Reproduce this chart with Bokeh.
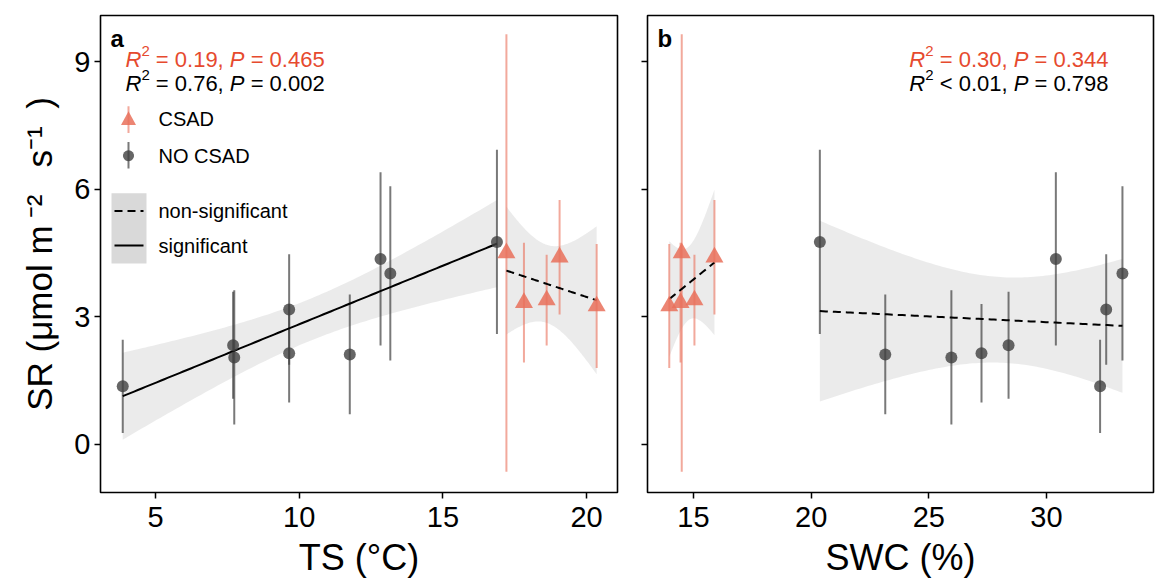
import numpy as np
from bokeh.plotting import figure
from bokeh.layouts import row
from bokeh.models import Range1d, FixedTicker, Label, BoxAnnotation, PolyAnnotation, Arrow
from bokeh.embed import file_html
from bokeh.resources import INLINE

# ---------------- data ----------------
nocsad_ts = [3.86, 7.70, 7.74, 9.65, 9.65, 11.76, 12.83, 13.17, 16.88]
nocsad_swc = [32.28, 28.39, 25.96, 32.54, 27.24, 23.15, 30.40, 33.23, 20.37]
nocsad_sr = [1.36, 2.33, 2.04, 3.17, 2.14, 2.11, 4.36, 4.02, 4.76]
nocsad_sd = [1.10, 1.26, 1.58, 1.30, 1.16, 1.41, 2.04, 2.05, 2.17]

csad_ts = [17.21, 17.82, 18.61, 19.06, 20.35]
csad_swc = [14.50, 14.45, 15.04, 15.89, 13.97]
csad_sr = [4.50, 3.33, 3.39, 4.40, 3.25]
csad_sd = [5.15, 1.41, 1.07, 1.35, 1.46]

y_ticks = [0, 3, 6, 9]
ts_ticks = [5, 10, 15, 20]
swc_ticks = [15, 20, 25, 30]

# (R2 relation, R2, P) for CSAD and NO CSAD
stats_ts = [("=", "0.19", "0.465"), ("=", "0.76", "0.002")]
stats_swc = [("=", "0.30", "0.344"), ("<", "0.01", "0.798")]
significant_ts = [False, True]
significant_swc = [False, False]

# ---------------- style ----------------
FONT = "Liberation Sans"
RED_TXT = "#E64A2E"
CSAD_COL = "#E9705A"
NO_COL = "#404040"
NB = "\u00a0"
Y0, Y1 = -1.14, 10.093
XA = (3.086, 21.075)
XB = (13.045, 34.55)
F_T, F_B = 15, 498
FA_L, FA_R = 100, 617
FB_L, FB_R = 647, 1153
T975 = {3: 3.182446, 7: 2.364624}

CW = {'0': .556, '1': .556, '2': .556, '3': .556, '4': .556, '5': .556, '6': .556,
      '7': .556, '8': .556, '9': .556, ' ': .278, NB: .278, '=': .584, ',': .278, '.': .278,
      '<': .584, 'R': .722, 'P': .667}


def tw(t, size):
    return sum(CW.get(c, .556) for c in t) * size


def conv(fl, fr, xr):
    def cx(px):
        return xr[0] + (px - fl) * (xr[1] - xr[0]) / (fr - fl)

    def cy(py):
        return Y0 + (F_B - py) * (Y1 - Y0) / (F_B - F_T)
    return cx, cy


def lm_band(x, y, n=100):
    x = np.asarray(x, float)
    y = np.asarray(y, float)
    b1, b0 = np.polyfit(x, y, 1)
    xs = np.linspace(x.min(), x.max(), n)
    yhat = b0 + b1 * xs
    resid = y - (b0 + b1 * x)
    dof = len(x) - 2
    s = np.sqrt((resid ** 2).sum() / dof)
    se = s * np.sqrt(1 / len(x) + (xs - x.mean()) ** 2 / ((x - x.mean()) ** 2).sum())
    t = T975[dof]
    return xs, yhat, yhat - t * se, yhat + t * se


def make_fig(width, xr, xticks, ml, mr, xlabel, show_ylabels):
    p = figure(width=width, height=580, x_range=Range1d(*xr), y_range=Range1d(Y0, Y1),
               output_backend="svg", toolbar_location=None,
               min_border_left=ml, min_border_right=mr, min_border_top=F_T,
               min_border_bottom=580 - F_B)
    p.grid.visible = False
    p.outline_line_color = "black"
    p.outline_line_width = 1.6
    p.outline_line_alpha = 1
    p.background_fill_color = "white"
    p.xaxis.ticker = FixedTicker(ticks=xticks)
    p.yaxis.ticker = FixedTicker(ticks=y_ticks)
    for ax in (p.xaxis, p.yaxis):
        ax.axis_line_color = None
        ax.major_tick_out = 6
        ax.major_tick_in = 0
        ax.major_tick_line_width = 1.5
        ax.major_tick_line_color = "black"
        ax.minor_tick_line_color = None
        ax.major_label_text_font = FONT
        ax.major_label_text_font_size = "29px"
        ax.major_label_text_color = "black"
        ax.major_label_standoff = 4
        ax.axis_label_text_font = FONT
        ax.axis_label_text_font_style = "normal"
        ax.axis_label_text_color = "black"
        ax.axis_label_text_font_size = "36px"
    p.xaxis.axis_label = xlabel
    p.xaxis.major_label_standoff = 8
    p.xaxis.axis_label_standoff = 7
    if not show_ylabels:
        p.yaxis.major_label_overrides = {t: "" for t in y_ticks}
    return p


def panel(p, xr, fl, fr, x_no, x_cs, stats, sig, letter, ann_x, ann_align):
    cx, cy = conv(fl, fr, xr)
    groups = [(x_cs, csad_sr, sig[0]), (x_no, nocsad_sr, sig[1])]
    fits = []
    for xv, yv, s in groups:
        xs, yh, lo, hi = lm_band(xv, yv)
        p.varea(x=xs, y1=lo, y2=hi, fill_color="#999999", fill_alpha=0.2)
        fits.append((xs, yh, s))
    lo_no = [a - b for a, b in zip(nocsad_sr, nocsad_sd)]
    hi_no = [a + b for a, b in zip(nocsad_sr, nocsad_sd)]
    lo_cs = [a - b for a, b in zip(csad_sr, csad_sd)]
    hi_cs = [a + b for a, b in zip(csad_sr, csad_sd)]
    p.segment(x0=x_no, y0=lo_no, x1=x_no, y1=hi_no, line_color=NO_COL, line_alpha=0.7, line_width=2)
    p.segment(x0=x_cs, y0=lo_cs, x1=x_cs, y1=hi_cs, line_color=CSAD_COL, line_alpha=0.6, line_width=2)
    for xs, yh, s in fits:
        p.line(xs, yh, line_color="black", line_width=2, line_dash="solid" if s else "8 5")
    p.scatter(x_no, nocsad_sr, marker="circle", size=12, fill_color=NO_COL, fill_alpha=0.8, line_color=None)
    p.scatter(x_cs, csad_sr, marker="triangle", size=18, fill_color=CSAD_COL, fill_alpha=0.85, line_color=None)

    p.add_layout(Label(x=cx(fl + 10), y=cy(38), text=letter, text_font=FONT, text_font_size="24px",
                       text_font_style="bold", text_color="black", text_baseline="alphabetic"))
    for (rel, r2, pv), col, base in zip(stats, [RED_TXT, "black"], [60, 84]):
        pieces = [("R", "italic", 22, 0), ("2", "normal", 15, 9),
                  (NB + rel + NB + r2 + "," + NB, "normal", 22, 0), ("P", "italic", 22, 0),
                  (NB + "=" + NB + pv, "normal", 22, 0)]
        total = sum(tw(t, s) for t, _, s, _ in pieces)
        x = ann_x if ann_align == "left" else ann_x - total
        for t, st, s, rise in pieces:
            p.add_layout(Label(x=cx(x), y=cy(base - rise), text=t, text_font=FONT,
                               text_font_size="%dpx" % s, text_font_style=st, text_color=col,
                               text_baseline="alphabetic", text_align="left"))
            x += tw(t, s)
    return cx, cy


pa = make_fig(632, XA, ts_ticks, FA_L, 632 - FA_R, "TS (°C)", True)
pb = make_fig(523, XB, swc_ticks, FB_L - 632, 1155 - FB_R, "SWC (%)", False)

pa.yaxis.axis_label = "SR (μmol m\u2009⁻²\u2002 s⁻¹\u2002)"
pa.yaxis.axis_label_text_font_size = "35px"
pa.yaxis.axis_label_standoff = 12

cxa, cya = panel(pa, XA, FA_L, FA_R, nocsad_ts, csad_ts, stats_ts, significant_ts, "a", 125, "left")
panel(pb, XB, FB_L, FB_R, nocsad_swc, csad_swc, stats_swc, significant_swc, "b", FB_R - 45, "right")

# ---------------- legend (panel a) ----------------
kx = 128
pa.add_layout(BoxAnnotation(left=cxa(kx - 1), right=cxa(kx + 1), top=cya(107), bottom=cya(134),
                            fill_color=CSAD_COL, fill_alpha=0.6, line_color=None))
pa.add_layout(PolyAnnotation(xs=[cxa(kx), cxa(kx - 7.5), cxa(kx + 7.5)], ys=[cya(112), cya(126), cya(126)],
                             fill_color=CSAD_COL, fill_alpha=0.85, line_color=None))
pa.add_layout(BoxAnnotation(left=cxa(kx - 1), right=cxa(kx + 1), top=cya(143), bottom=cya(170),
                            fill_color=NO_COL, fill_alpha=0.7, line_color=None))
ang = np.linspace(0, 2 * np.pi, 28, endpoint=False)
pa.add_layout(PolyAnnotation(xs=[cxa(kx + 5.5 * np.cos(a)) for a in ang],
                             ys=[cya(157 + 5.5 * np.sin(a)) for a in ang],
                             fill_color=NO_COL, fill_alpha=0.8, line_color=None))
pa.add_layout(BoxAnnotation(left=cxa(111), right=cxa(146), top=cya(195), bottom=cya(266),
                            fill_color="#D9D9D9", fill_alpha=1, line_color=None))
pa.add_layout(Arrow(x_start=cxa(114), x_end=cxa(143), y_start=cya(213), y_end=cya(213), end=None,
                    line_color="black", line_width=2, line_dash="8 5"))
pa.add_layout(Arrow(x_start=cxa(114), x_end=cxa(143), y_start=cya(248), y_end=cya(248), end=None,
                    line_color="black", line_width=2))
for txt, yy in [("CSAD", 120), ("NO CSAD", 157), ("non-significant", 213), ("significant", 248)]:
    pa.add_layout(Label(x=cxa(158), y=cya(yy), text=txt, text_font=FONT, text_font_size="20px",
                        text_color="black", text_baseline="middle", text_align="left"))

layout = row(pa, pb, spacing=0)
open("out.html", "w").write(file_html(layout, INLINE))
